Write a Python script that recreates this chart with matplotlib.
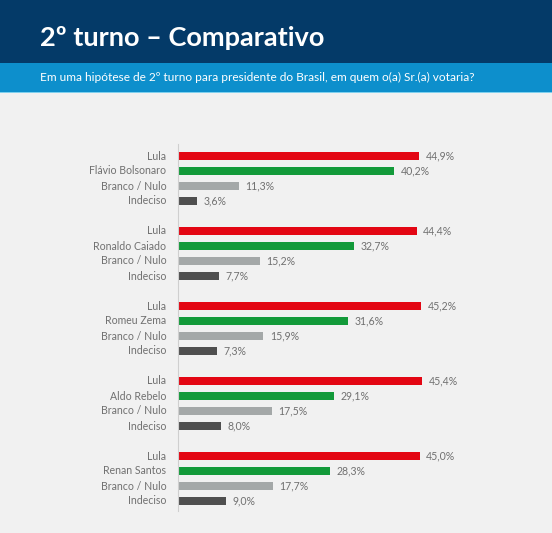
import matplotlib.pyplot as plt
import numpy as np

# Data
candidatos = ['Flávio Bolsonaro', 'Ronaldo Caiado', 'Romeu Zema', 'Aldo Rebelo', 'Renan Santos']
lula = [44.9, 44.4, 45.2, 45.4, 45.0]
adversario = [40.2, 32.7, 31.6, 29.1, 28.3]
branco_nulo = [11.3, 15.2, 15.9, 17.5, 17.7]
indeciso = [3.6, 7.7, 7.3, 8.0, 9.0]

cores = ['#e30613', '#139a3a', '#a4a8a8', '#4f4f4f']
fonte = 'Lato'

W, H = 552, 533
fig = plt.figure(figsize=(W / 100, H / 100), dpi=100)
fig.patch.set_facecolor('#f1f1f1')

# Header bands
fig.patches.append(plt.Rectangle((0, 1 - 63 / H), 1, 63 / H, transform=fig.transFigure,
                                 facecolor='#043a68', edgecolor='none'))
fig.patches.append(plt.Rectangle((0, 1 - 92 / H), 1, 29 / H, transform=fig.transFigure,
                                 facecolor='#0d8fcc', edgecolor='none'))
fig.patches.append(plt.Rectangle((0, 1 - 93 / H), 1, 1.5 / H, transform=fig.transFigure,
                                 facecolor='#7fd0ee', edgecolor='none'))

fig.text(40 / W, 1 - 38 / H, '2º turno – Comparativo', color='white', fontsize=19.5,
         fontweight='bold', family=fonte, va='center', ha='left')
fig.text(40 / W, 1 - 77 / H,
         'Em uma hipótese de 2º turno para presidente do Brasil, em quem o(a) Sr.(a) votaria?',
         color='white', fontsize=8.6, family=fonte, va='center', ha='left')

# Chart axes: 5.375 px per percentage point, 15 px per bar row
px_pct = 5.375
x0, y_top, y_bot = 178, 144, 511
ax_w = 60 * px_pct
ax = fig.add_axes([x0 / W, 1 - y_bot / H, ax_w / W, (y_bot - y_top) / H])
ax.set_facecolor('none')
ax.set_xlim(0, 60)
row_px = 15
ax.set_ylim(23 + (y_bot - 501) / row_px, -(156 - y_top) / row_px)

for g, nome in enumerate(candidatos):
    rotulos = ['Lula', nome, 'Branco / Nulo', 'Indeciso']
    valores = [lula[g], adversario[g], branco_nulo[g], indeciso[g]]
    for i, (rot, val) in enumerate(zip(rotulos, valores)):
        y = g * 5 + i
        ax.barh(y, val, height=0.58, color=cores[i])
        ax.text(val + 1.2, y, f'{val:.1f}%'.replace('.', ','), va='center', ha='left',
                fontsize=7.6, color='#707070', family=fonte)
        ax.text(-2.2, y, rot, va='center', ha='right', fontsize=7.6, color='#707070',
                family=fonte)

for s in ['top', 'right', 'bottom']:
    ax.spines[s].set_visible(False)
ax.spines['left'].set_color('#cfcfcf')
ax.spines['left'].set_linewidth(0.8)
ax.set_xticks([])
ax.set_yticks([])

plt.savefig('out.png', dpi=100, facecolor=fig.get_facecolor())
